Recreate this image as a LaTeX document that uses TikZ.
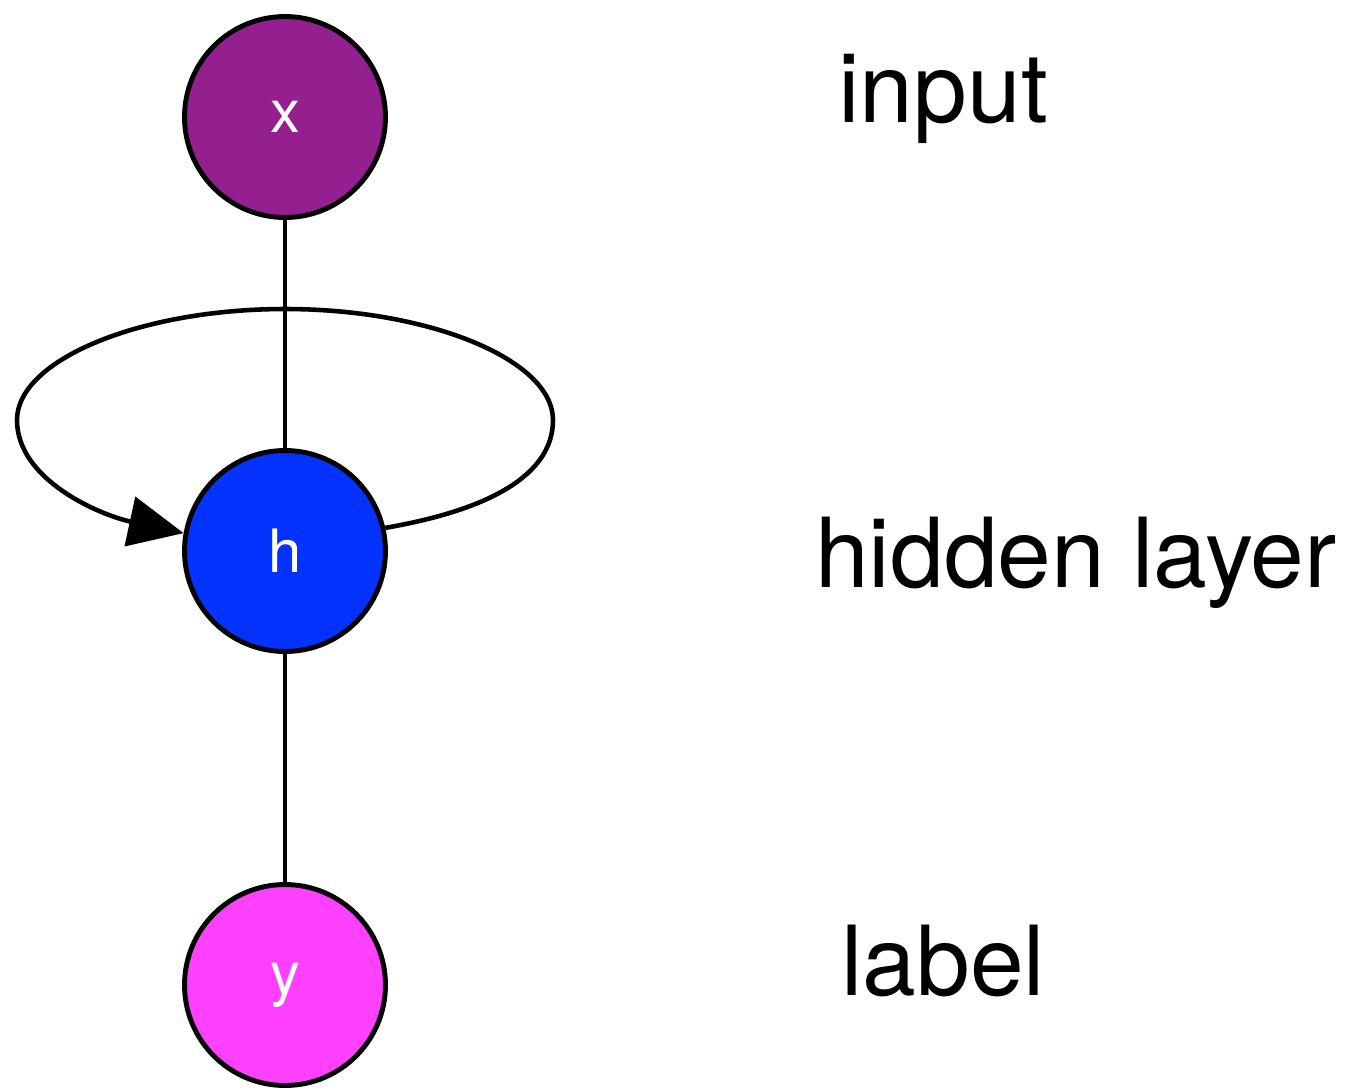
\documentclass[tikz,border=0pt]{standalone}
\usepackage{fontspec}
\setmainfont{TeX Gyre Heros}
\usetikzlibrary{arrows.meta,positioning}

\begin{document}
\begin{tikzpicture}[x=0.02cm, y=-0.02cm]
    % Color Palette
    \definecolor{inputColor}{HTML}{93208E}
    \definecolor{hiddenColor}{HTML}{0433FF}
    \definecolor{labelColor}{HTML}{FF40FF}

    \tikzset{
        unit/.style={circle, draw=black, line width=2.8pt, minimum size=4.02cm, inner sep=0pt,
            text=white, font=\fontsize{34}{40}\selectfont},
        link/.style={line width=2.6pt},
        caption/.style={anchor=base west, font=\fontsize{55}{60}\selectfont}
    }

    \useasboundingbox (0,0) rectangle (1358,1090);

    % --- Units ---
    \node[unit, fill=inputColor] (xin) at (285,117) {x};
    \node[unit, fill=hiddenColor] (hid) at (285,551) {h};
    \node[unit, fill=labelColor] (yout) at (285,985) {y};

    % --- Captions ---
    \node[caption] (capin) at (832,122) {input};
    \node[caption] (caphid) at (809,587) {hidden layer};
    \node[caption] (capout) at (835,995) {label};

    % Connections
    \draw[link] (xin) -- (hid);
    \draw[link] (hid) -- (yout);

    % Recurrent loop
    \draw[link, -{Triangle[length=1.1cm, width=1cm]}] (hid.13)
        .. controls (500,508) and (553,470) .. (553,420)
        .. controls (553,360) and (430,309) .. (285,309)
        .. controls (140,309) and (17,360) .. (17,420)
        .. controls (17,480) and (100,515) .. (hid.170);

\end{tikzpicture}
\end{document}
